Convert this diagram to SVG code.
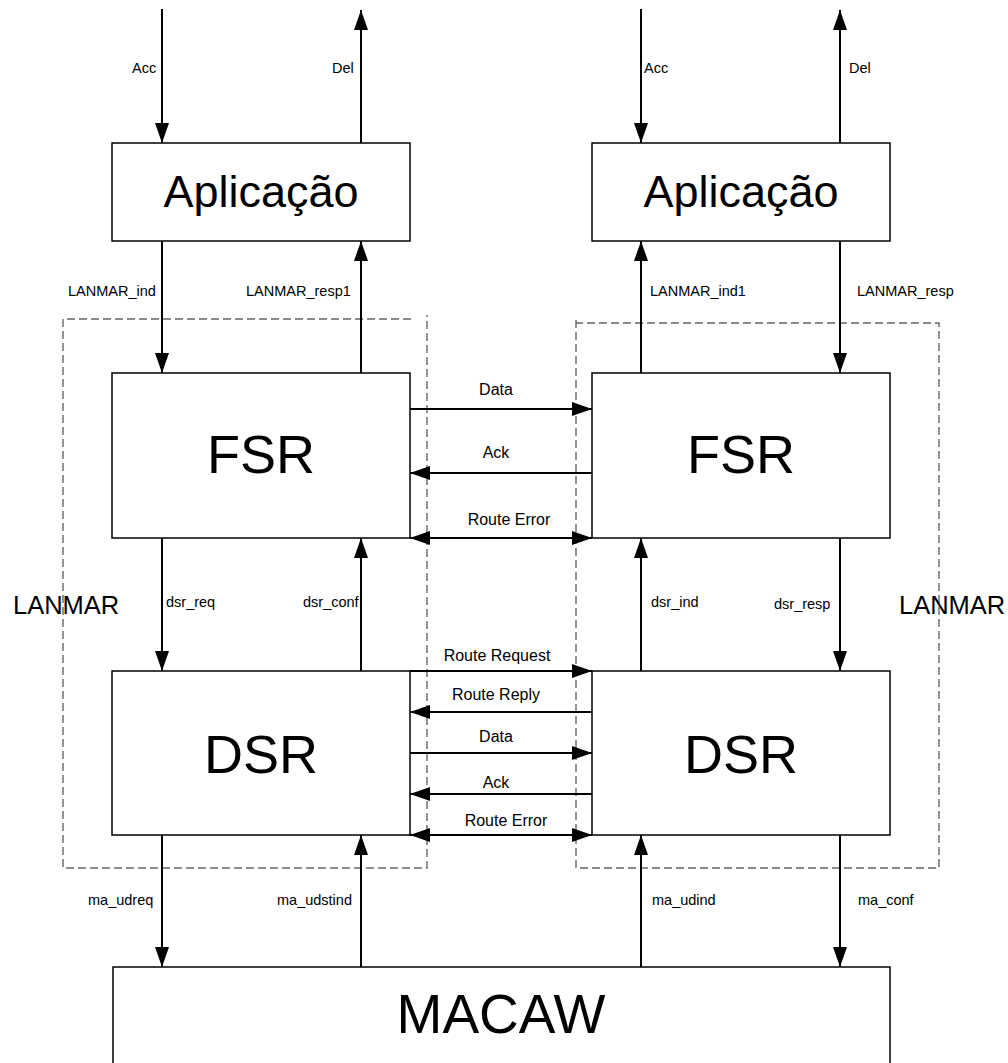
<svg xmlns="http://www.w3.org/2000/svg" width="1008" height="1063" viewBox="0 0 1008 1063">
<style>
.box{fill:#fff;stroke:#000;stroke-width:1.5}
.big{font-family:"Liberation Sans",Arial,sans-serif;fill:#000;text-anchor:middle}
.lbl{font-family:"Liberation Sans",Arial,sans-serif;font-size:14.5px;fill:#000}
.rl{font-family:"Liberation Sans",Arial,sans-serif;font-size:16px;fill:#000;text-anchor:middle}
.ln{stroke:#000;stroke-width:2;fill:none}
.dash{stroke:#666;stroke-width:1.4;stroke-dasharray:8,4;fill:none}
</style>
<defs>
<marker id="ah" markerUnits="userSpaceOnUse" markerWidth="20" markerHeight="14" viewBox="0 0 20 14" refX="20" refY="7" orient="auto-start-reverse">
<path d="M0,0 L20,7 L0,14 z" fill="#000"/>
</marker>
</defs>
<rect width="1008" height="1063" fill="#fff"/>

<g id="regions">
<path class="dash" d="M411,319 H63 V868 H427 V315"/>
<path class="dash" d="M576,320 V868 H939 V323 H576"/>
<text class="lbl" x="13" y="614" style="font-size:25.5px">LANMAR</text>
<text class="lbl" x="899" y="614" style="font-size:25.5px">LANMAR</text>
</g>

<g id="app-left"><rect class="box" x="112" y="143" width="298" height="98"/><text class="big" x="261" y="207" font-size="45">Aplicação</text></g>
<g id="app-right"><rect class="box" x="592" y="143" width="298" height="98"/><text class="big" x="741" y="207" font-size="45">Aplicação</text></g>
<g id="fsr-left"><rect class="box" x="112" y="373" width="298" height="165"/><text class="big" x="261" y="473" font-size="54">FSR</text></g>
<g id="fsr-right"><rect class="box" x="592" y="373" width="298" height="165"/><text class="big" x="741" y="473" font-size="54">FSR</text></g>
<g id="dsr-left"><rect class="box" x="112" y="671" width="298" height="164"/><text class="big" x="261" y="773" font-size="54">DSR</text></g>
<g id="dsr-right"><rect class="box" x="592" y="671" width="298" height="164"/><text class="big" x="741" y="773" font-size="54">DSR</text></g>
<g id="macaw"><rect class="box" x="113" y="967" width="777" height="110"/><text class="big" x="501" y="1033" font-size="55">MACAW</text></g>

<g id="connectors">
<line class="ln" x1="162" y1="9" x2="162" y2="143" marker-end="url(#ah)"/>
<line class="ln" x1="361" y1="143" x2="361" y2="10" marker-end="url(#ah)"/>
<line class="ln" x1="641" y1="9" x2="641" y2="143" marker-end="url(#ah)"/>
<line class="ln" x1="840" y1="143" x2="840" y2="10" marker-end="url(#ah)"/>

<line class="ln" x1="162" y1="241" x2="162" y2="373" marker-end="url(#ah)"/>
<line class="ln" x1="361" y1="373" x2="361" y2="241" marker-end="url(#ah)"/>
<line class="ln" x1="641" y1="373" x2="641" y2="241" marker-end="url(#ah)"/>
<line class="ln" x1="840" y1="241" x2="840" y2="373" marker-end="url(#ah)"/>

<line class="ln" x1="162" y1="538" x2="162" y2="671" marker-end="url(#ah)"/>
<line class="ln" x1="361" y1="671" x2="361" y2="538" marker-end="url(#ah)"/>
<line class="ln" x1="641" y1="671" x2="641" y2="538" marker-end="url(#ah)"/>
<line class="ln" x1="840" y1="538" x2="840" y2="671" marker-end="url(#ah)"/>

<line class="ln" x1="162" y1="835" x2="162" y2="967" marker-end="url(#ah)"/>
<line class="ln" x1="361" y1="967" x2="361" y2="835" marker-end="url(#ah)"/>
<line class="ln" x1="641" y1="967" x2="641" y2="835" marker-end="url(#ah)"/>
<line class="ln" x1="840" y1="835" x2="840" y2="967" marker-end="url(#ah)"/>

<line class="ln" x1="410" y1="409" x2="592" y2="409" marker-end="url(#ah)"/>
<line class="ln" x1="592" y1="473" x2="410" y2="473" marker-end="url(#ah)"/>
<line class="ln" x1="410" y1="538" x2="592" y2="538" marker-start="url(#ah)" marker-end="url(#ah)"/>

<line class="ln" x1="410" y1="671" x2="592" y2="671" marker-end="url(#ah)"/>
<line class="ln" x1="592" y1="712" x2="410" y2="712" marker-end="url(#ah)"/>
<line class="ln" x1="410" y1="753" x2="592" y2="753" marker-end="url(#ah)"/>
<line class="ln" x1="592" y1="794" x2="410" y2="794" marker-end="url(#ah)"/>
<line class="ln" x1="410" y1="835" x2="592" y2="835" marker-start="url(#ah)" marker-end="url(#ah)"/>

<text class="lbl" x="132" y="73">Acc</text>
<text class="lbl" x="332" y="73">Del</text>
<text class="lbl" x="644" y="73">Acc</text>
<text class="lbl" x="849" y="73">Del</text>
<text class="lbl" x="68" y="296">LANMAR_ind</text>
<text class="lbl" x="246" y="296">LANMAR_resp1</text>
<text class="lbl" x="650" y="296">LANMAR_ind1</text>
<text class="lbl" x="857" y="296">LANMAR_resp</text>
<text class="lbl" x="166" y="607">dsr_req</text>
<text class="lbl" x="303" y="607">dsr_conf</text>
<text class="lbl" x="651" y="607">dsr_ind</text>
<text class="lbl" x="774" y="609">dsr_resp</text>
<text class="lbl" x="88" y="905">ma_udreq</text>
<text class="lbl" x="277" y="905">ma_udstind</text>
<text class="lbl" x="652" y="905">ma_udind</text>
<text class="lbl" x="858" y="905">ma_conf</text>

<text class="rl" x="496" y="395">Data</text>
<text class="rl" x="496" y="458">Ack</text>
<text class="rl" x="509" y="525">Route Error</text>
<text class="rl" x="497" y="661">Route Request</text>
<text class="rl" x="496" y="700">Route Reply</text>
<text class="rl" x="496" y="742">Data</text>
<text class="rl" x="496" y="788">Ack</text>
<text class="rl" x="506" y="826">Route Error</text>
</g>
</svg>
